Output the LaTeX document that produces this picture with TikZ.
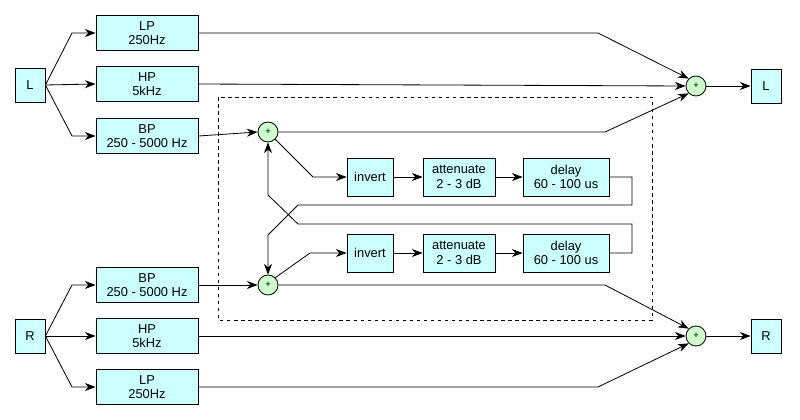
\documentclass[tikz,border=0pt]{standalone}
\usepackage{fontspec}
\setmainfont{Liberation Sans}
\usetikzlibrary{positioning,arrows.meta}
\definecolor{boxcyan}{HTML}{CCFFFF}
\definecolor{sumgreen}{HTML}{CCFFCC}
\tikzset{
  blk/.style={draw, fill=boxcyan, align=center, inner sep=1pt, font=\fontsize{11}{12.5}\selectfont},
  filt/.style={blk, minimum width=3.06cm, minimum height=1.05cm},
  io/.style={blk, minimum width=0.9cm, minimum height=1.02cm},
  sum/.style={draw, circle, fill=sumgreen, minimum size=0.6cm, inner sep=0pt, font=\footnotesize},
  sig/.style={-{Stealth[length=3.2mm, width=2.4mm, inset=1mm]}},
}
\begin{document}
\begin{tikzpicture}[x=0.03cm, y=-0.03cm, line width=0.7pt]
	\useasboundingbox (0,0) rectangle (800,420);
	% inputs and filters
	\node[io] (inL) at (30,85) {L};
	\node[io] (inR) at (30,336) {R};
	\node[filt] (lpL) at (147,33) {LP\\250Hz};
	\node[filt] (hpL) at (147,84) {HP\\5kHz};
	\node[filt] (bpL) at (147,136) {BP\\250 - 5000 Hz};
	\node[filt] (bpR) at (147,285) {BP\\250 - 5000 Hz};
	\node[filt] (hpR) at (147,336) {HP\\5kHz};
	\node[filt] (lpR) at (147,387) {LP\\250Hz};
	% crossfeed
	\draw[dashed] (218,97) rectangle (652,320);
	\node[sum] (sumT) at (268,132) {+};
	\node[sum] (sumB) at (268,285) {+};
	\node[blk, minimum width=1.38cm, minimum height=1.14cm] (invT) at (370,177) {invert};
	\node[blk, minimum width=2.16cm, minimum height=1.14cm] (attT) at (459,177) {attenuate\\2 - 3 dB};
	\node[blk, minimum width=2.58cm, minimum height=1.14cm] (delT) at (566,177) {delay\\60 - 100 us};
	\node[blk, minimum width=1.38cm, minimum height=1.14cm] (invB) at (370,253) {invert};
	\node[blk, minimum width=2.16cm, minimum height=1.14cm] (attB) at (459,253) {attenuate\\2 - 3 dB};
	\node[blk, minimum width=2.58cm, minimum height=1.14cm] (delB) at (566,253) {delay\\60 - 100 us};
	% outputs
	\node[sum] (outSL) at (696,86) {+};
	\node[sum] (outSR) at (696,336) {+};
	\node[io] (outL) at (766,86) {L};
	\node[io] (outR) at (766,336) {R};
	% connectors
	\draw[sig] (inL.east) -- (72,33) -- (lpL.west);
	\draw[sig] (inL.east) -- (hpL.west);
	\draw[sig] (inL.east) -- (72,136) -- (bpL.west);
	\draw[sig] (inR.east) -- (72,285) -- (bpR.west);
	\draw[sig] (inR.east) -- (hpR.west);
	\draw[sig] (inR.east) -- (72,387) -- (lpR.west);
	\draw[sig] (bpL.east) -- (sumT.west);
	\draw[sig] (bpR.east) -- (sumB.west);
	\draw[sig] (sumT.south east) -- (313,177) -- (invT.west);
	\draw[sig] (sumB.north east) -- (310,253) -- (invB.west);
	\draw[sig] (invT) -- (attT);
	\draw[sig] (attT) -- (delT);
	\draw[sig] (invB) -- (attB);
	\draw[sig] (attB) -- (delB);
	\draw[sig] (delT.east) -- (632,177) -- (632,205) -- (298,205) -- (268,235) -- (sumB.north);
	\draw[sig] (delB.east) -- (632,253) -- (632,224) -- (298,224) -- (268,195) -- (sumT.south);
	\draw[sig] (lpL.east) -- (598,33) -- (outSL.north west);
	\draw[sig] (hpL.east) -- (outSL.west);
	\draw[sig] (sumT.east) -- (605,132) -- (outSL.south west);
	\draw[sig] (sumB.east) -- (605,285) -- (outSR.north west);
	\draw[sig] (hpR.east) -- (outSR.west);
	\draw[sig] (lpR.east) -- (598,387) -- (outSR.south west);
	\draw[sig] (outSL) -- (outL);
	\draw[sig] (outSR) -- (outR);
\end{tikzpicture}
\end{document}
